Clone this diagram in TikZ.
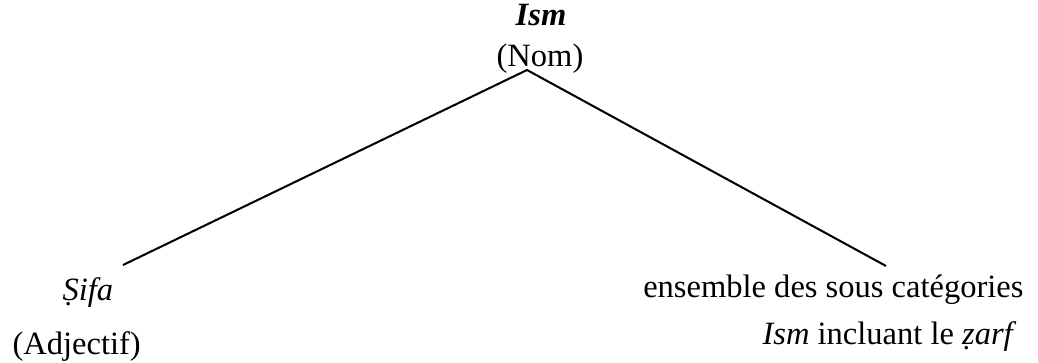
\documentclass[tikz,border=0pt]{standalone}
\usepackage{fontspec}
\setmainfont{Liberation Serif}
\begin{document}
\begin{tikzpicture}[x=0.369pt,y=-0.369pt,
  lbl/.style={inner sep=0pt,font=\fontsize{12}{14}\selectfont},
  branch/.style={line width=0.75pt}]
\useasboundingbox (0,0) rectangle (1038,362);
% root
\node[lbl,anchor=base] (ism) at (541,25) {\textbf{\textit{Ism}}};
\node[lbl,anchor=base] (nom) at (540,66) {(Nom)};
\coordinate (top) at (527,70);
% left daughter
\node[lbl,anchor=base west] (sifa) at (62,300) {\textit{Ṣifa}};
\node[lbl,anchor=base west] (adj) at (12,354) {(Adjectif)};
\coordinate (lend) at (123,265);
% right daughter
\node[lbl,anchor=base east] (ens) at (1024,297) {ensemble des sous catégories};
\node[lbl,anchor=base east] (inc) at (1017,344) {\textit{Ism} incluant le \textit{ẓarf}};
\coordinate (rend) at (886,266);
\draw[branch] (lend) -- (top) -- (rend);
\end{tikzpicture}
\end{document}
